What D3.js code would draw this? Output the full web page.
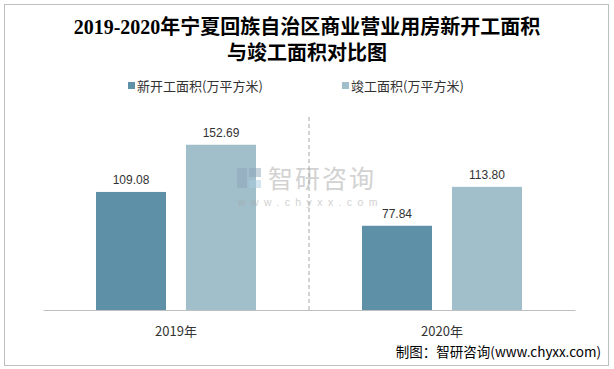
<!DOCTYPE html>
<html><head><meta charset="utf-8">
<script src="https://cdn.jsdelivr.net/npm/d3@7"></script>
<style>body{margin:0;background:#fff;}svg{display:block;}</style>
</head><body>
<script>
const categories = ["2019年", "2020年"];
const seriesNames = ["新开工面积(万平方米)", "竣工面积(万平方米)"];
const newStart = [109.08, 77.84];
const completed = [152.69, 113.80];
const colors = ["#5e91a8", "#a1becb"];

const W = 614, H = 369;
const svg = d3.select("body").append("svg").attr("width", W).attr("height", H);
const cjk = "'Noto Sans CJK SC', 'Liberation Sans', sans-serif";

svg.append("rect").attr("x", 4.5).attr("y", 4.5).attr("width", 604).attr("height", 361)
  .attr("fill", "#fff").attr("stroke", "#bfbfbf").attr("stroke-width", 1);

// title
const title = svg.append("text").attr("text-anchor", "middle")
  .attr("font-family", "'Liberation Serif', 'Noto Sans CJK SC', serif")
  .attr("font-weight", "bold").attr("font-size", 20).attr("fill", "#000");
title.append("tspan").attr("x", 307).attr("y", 34).text("2019-2020年宁夏回族自治区商业营业用房新开工面积");
title.append("tspan").attr("x", 307).attr("y", 60).text("与竣工面积对比图");

// legend
const legendX = [128, 342];
seriesNames.forEach((n, i) => {
  svg.append("rect").attr("x", legendX[i]).attr("y", 82).attr("width", 7).attr("height", 7).attr("fill", colors[i]);
  svg.append("text").attr("x", legendX[i] + 9).attr("y", 90.5).attr("font-family", cjk)
    .attr("font-size", 13).attr("fill", "#333").text(n);
});

const x0 = d3.scaleBand().domain(categories).range([43, 575]).padding(0);
const groupW = 160;
const x1 = d3.scaleBand().domain(seriesNames).range([0, groupW]).paddingInner(0.222);
const y = d3.scaleLinear().domain([0, 180]).range([310, 115.2]);

const data = categories.map((c, i) => ({ cat: c, vals: [newStart[i], completed[i]] }));
const g = svg.append("g");
const groups = g.selectAll("g.grp").data(data).enter().append("g")
  .attr("transform", d => `translate(${x0(d.cat) + (x0.bandwidth() - groupW) / 2},0)`);
groups.selectAll("rect").data(d => d.vals.map((v, i) => ({ s: seriesNames[i], v, i })))
  .enter().append("rect")
  .attr("x", d => x1(d.s)).attr("width", x1.bandwidth())
  .attr("y", d => y(d.v)).attr("height", d => y(0) - y(d.v))
  .attr("fill", d => colors[d.i]);
groups.selectAll("text").data(d => d.vals.map((v, i) => ({ s: seriesNames[i], v, i })))
  .enter().append("text")
  .attr("x", d => x1(d.s) + x1.bandwidth() / 2).attr("y", d => y(d.v) - 8)
  .attr("text-anchor", "middle").attr("font-family", "'Liberation Sans', sans-serif")
  .attr("font-size", 12).attr("fill", "#333").text(d => d.v.toFixed(2));

// divider
svg.append("line").attr("x1", x0("2020年")).attr("x2", x0("2020年")).attr("y1", 117).attr("y2", 310)
  .attr("stroke", "#a6a6a6").attr("stroke-dasharray", "4,3");

// watermark (drawn over bars)
const wm = svg.append("g").attr("opacity", 0.5);
wm.append("rect").attr("x", 237).attr("y", 168).attr("width", 10).attr("height", 20).attr("fill", "#8fa6bb");
wm.append("rect").attr("x", 249).attr("y", 168).attr("width", 12).attr("height", 9).attr("fill", "#8fa6bb");
wm.append("rect").attr("x", 249).attr("y", 180).attr("width", 12).attr("height", 8).attr("fill", "#a8cde0");
wm.append("text").attr("x", 268).attr("y", 188).attr("font-family", cjk).attr("font-size", 25)
  .attr("fill", "#a6a6a6").attr("letter-spacing", 2).text("智研咨询");
wm.append("text").attr("x", 238).attr("y", 206).attr("font-family", "'Liberation Sans', sans-serif").attr("font-size", 10.5)
  .attr("fill", "#a6a6a6").attr("letter-spacing", 5.4).text("www.chyxx.com");

// axis
const axis = svg.append("g").attr("transform", "translate(0,310)")
  .call(d3.axisBottom(x0).tickSize(0).tickPadding(17));
axis.select(".domain").attr("stroke", "#bfbfbf");
axis.selectAll("text").attr("font-family", cjk).attr("font-size", 13).attr("fill", "#333");

svg.append("text").attr("x", 601).attr("y", 357).attr("text-anchor", "end").attr("font-family", cjk)
  .attr("font-size", 13.5).attr("fill", "#000").text("制图：智研咨询(www.chyxx.com)");
</script>
</body></html>
